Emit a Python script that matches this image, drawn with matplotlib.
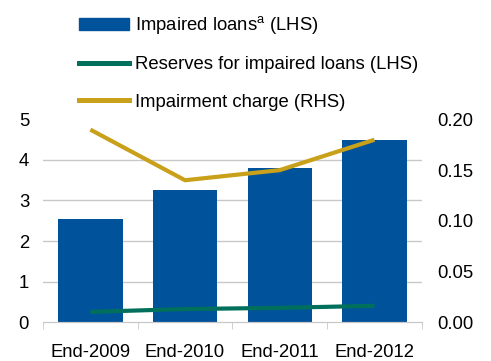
import numpy as np
import matplotlib.pyplot as plt
from matplotlib.patches import Patch
from matplotlib.lines import Line2D

plt.rcParams['font.family'] = ['Liberation Sans', 'DejaVu Sans']
plt.rcParams['mathtext.fontset'] = 'custom'
plt.rcParams['mathtext.rm'] = 'Liberation Sans'

# Daten
categories = ["End-2009", "End-2010", "End-2011", "End-2012"]
impaired_loans = [2.54, 3.25, 3.80, 4.49]
reserves = [0.25, 0.32, 0.35, 0.40]
impairment_charge = [0.19, 0.14, 0.15, 0.18]

blue = "#00529B"
green = "#00705C"
gold = "#C9A01A"
grey = "#C8C8C8"
fs = 13.3

fig = plt.figure(figsize=(4.91, 3.61), dpi=100)
ax = fig.add_axes([0.0876, 0.108, 0.7714, 0.561])
x = np.arange(len(categories))

ax.bar(x, impaired_loans, width=0.68, color=blue, zorder=2)
ax.plot(x, reserves, color=green, lw=3.0, zorder=3, solid_capstyle="butt")
ax.set_ylim(0, 5)
ax.set_xlim(-0.5, 3.5)
ax.set_yticks(range(6))
for v in range(1, 5):
    ax.axhline(v, color=grey, lw=1, zorder=1)

ax2 = ax.twinx()
ax2.plot(x, impairment_charge, color=gold, lw=3.0, zorder=3, solid_capstyle="butt")
ax2.set_ylim(0, 0.20)
ax2.set_yticks([0, 0.05, 0.10, 0.15, 0.20])
ax2.set_yticklabels(["0.00", "0.05", "0.10", "0.15", "0.20"])

for a in (ax, ax2):
    for s in ["top", "left", "right"]:
        a.spines[s].set_visible(False)
    a.spines["bottom"].set_color(grey)
    a.tick_params(axis="y", length=0, labelsize=fs)

ax.set_xticks(x)
ax.set_xticklabels(categories)
ax.set_xticks(np.arange(-0.5, 4, 1), minor=True)
ax.tick_params(axis="x", which="major", length=0, labelsize=fs, pad=16)
ax.tick_params(axis="x", which="minor", length=5, color=grey)
ax.tick_params(axis="y", pad=10)
ax2.tick_params(axis="y", pad=11)

handles = [
    Patch(color=blue),
    Line2D([0], [0], color=green, lw=3.6),
    Line2D([0], [0], color=gold, lw=3.6),
]
labels = ["Impaired loans$^{\\mathrm{a}}$ (LHS)",
          "Reserves for impaired loans (LHS)",
          "Impairment charge (RHS)"]
fig.legend(handles, labels, loc="upper left", bbox_to_anchor=(79 / 491, 0.961),
           frameon=False, fontsize=fs, handlelength=2.7, handleheight=0.62,
           handletextpad=0.34, labelspacing=1.1, borderaxespad=0, borderpad=0)

fig.savefig("out.png", dpi=100)
